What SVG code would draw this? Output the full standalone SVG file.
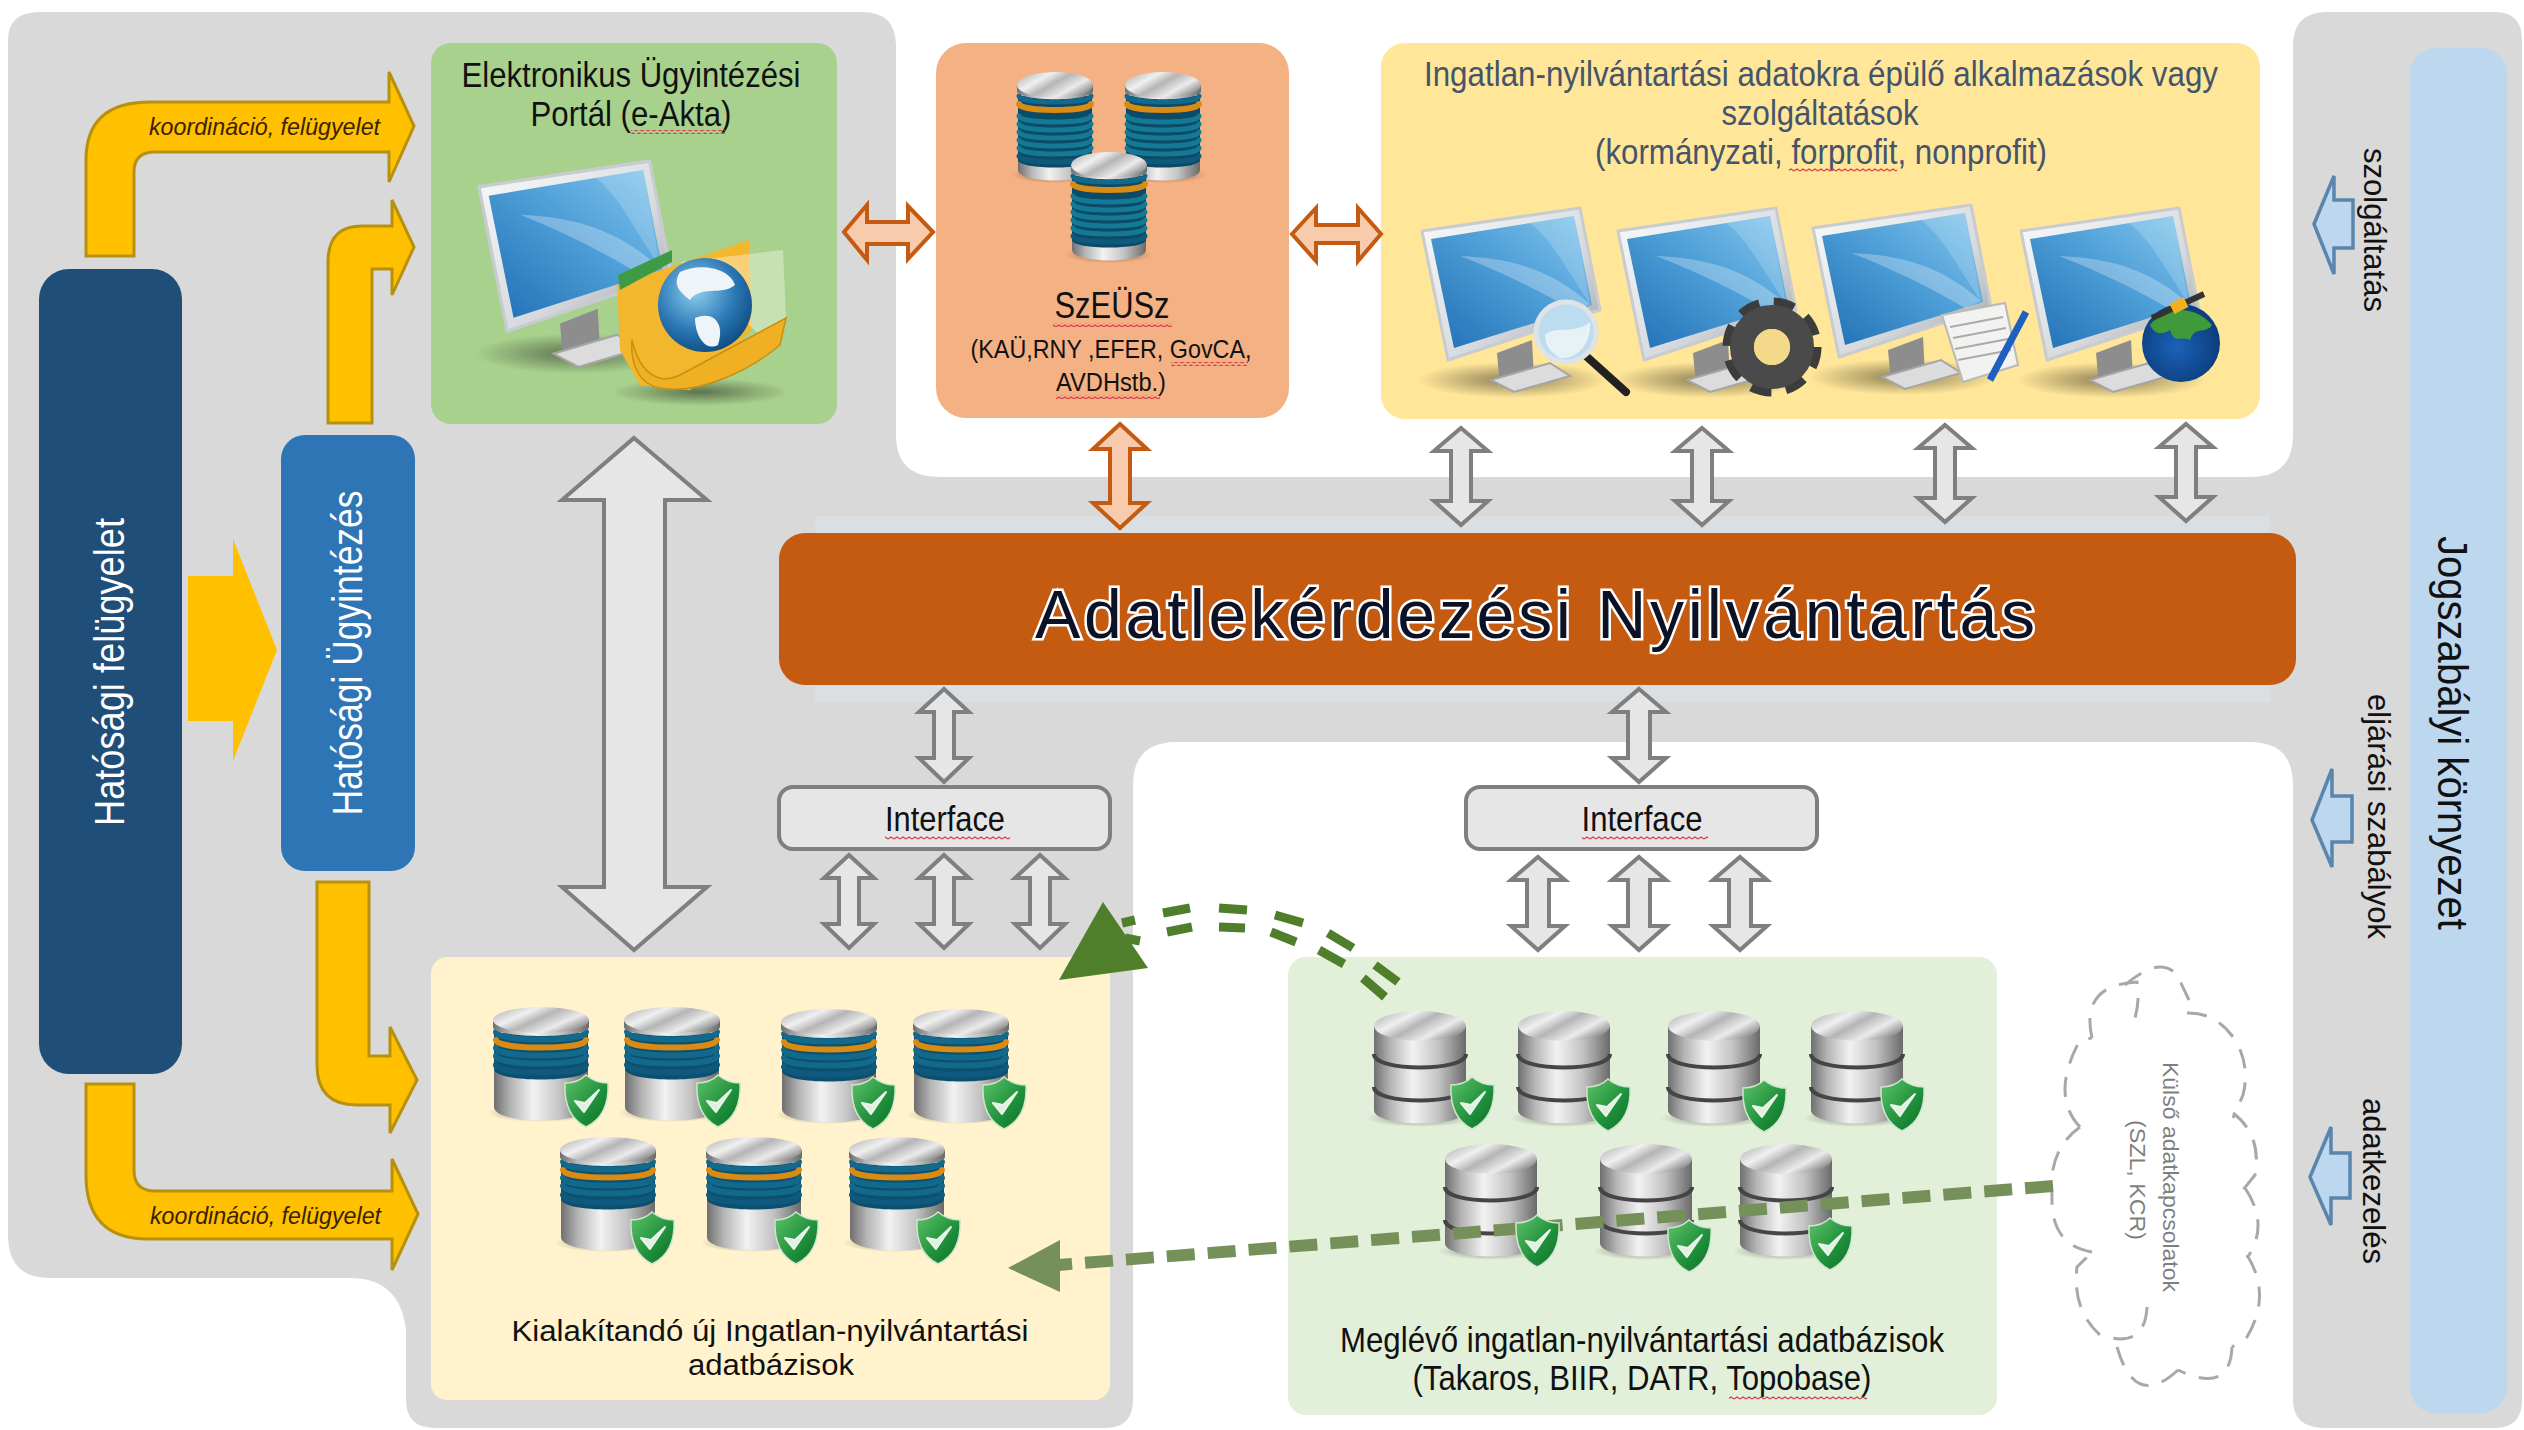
<svg xmlns="http://www.w3.org/2000/svg" width="2524" height="1430" viewBox="0 0 2524 1430">
<style>
.t{font-family:"Liberation Sans",Arial,sans-serif;fill:#111}
.sl{fill:#44546A}
.w{fill:#fff}
.i{font-style:italic;fill:#3a2200;font-size:24px}
.g{fill:#E7E6E6;stroke:#7F7F7F;stroke-width:4;stroke-linejoin:miter}
.o{fill:#F8CBAD;stroke:#C55A11;stroke-width:4}
.y{fill:#FFC000;stroke:#B8900F;stroke-width:3}
.b{fill:#BDD7EE;stroke:#5A86AE;stroke-width:3.5}
.sq{fill:url(#wave)}
</style>
<defs>
<pattern id="wave" width="6" height="4" patternUnits="userSpaceOnUse"><path d="M0,3 L3,1 L6,3" fill="none" stroke="#D8404E" stroke-width="1.4"/></pattern>
<linearGradient id="silver" x1="0" x2="1" y1="0" y2="0"><stop offset="0" stop-color="#6f6f6f"/><stop offset=".18" stop-color="#b5b5b5"/><stop offset=".42" stop-color="#f2f2f2"/><stop offset=".7" stop-color="#c4c4c4"/><stop offset="1" stop-color="#6a6a6a"/></linearGradient>
<linearGradient id="cap" x1="0" x2="1" y1="0" y2=".6"><stop offset="0" stop-color="#a8a8a8"/><stop offset=".35" stop-color="#f0f0f0"/><stop offset=".55" stop-color="#b5b5b5"/><stop offset=".8" stop-color="#ebebeb"/><stop offset="1" stop-color="#999"/></linearGradient>
<linearGradient id="frame" x1="0" x2="1" y1="0" y2="1"><stop offset="0" stop-color="#fafafa"/><stop offset=".6" stop-color="#d6dade"/><stop offset="1" stop-color="#9aa0a5"/></linearGradient>
<linearGradient id="scr" x1="0" x2="1" y1="1" y2="0"><stop offset="0" stop-color="#1F6FB5"/><stop offset=".55" stop-color="#4F9FD8"/><stop offset="1" stop-color="#86C9EE"/></linearGradient>
<linearGradient id="shieldG" x1="0" x2="1" y1="0" y2="1"><stop offset="0" stop-color="#5FC36A"/><stop offset=".6" stop-color="#1E8F3A"/><stop offset="1" stop-color="#0F6E28"/></linearGradient>
<radialGradient id="shadow"><stop offset="0" stop-color="#000" stop-opacity=".45"/><stop offset="1" stop-color="#000" stop-opacity="0"/></radialGradient>
<radialGradient id="globeB" cx=".4" cy=".35" r=".7"><stop offset="0" stop-color="#8FD0F0"/><stop offset=".6" stop-color="#2A78B5"/><stop offset="1" stop-color="#0E4A80"/></radialGradient>
<radialGradient id="earth" cx=".45" cy=".55" r=".6"><stop offset="0" stop-color="#1B62B8"/><stop offset="1" stop-color="#0B3A78"/></radialGradient>

<polygon id="a1" points="0,0 27,23 10,23 10,73 27,73 0,97 -27,73 -10,73 -10,23 -27,23"/>
<polygon id="a2" points="0,0 25,23 10,23 10,69 25,69 0,93 -25,69 -10,69 -10,23 -25,23"/>
<polygon id="a3" points="0,0 27,23 11,23 11,69 27,69 0,93 -27,69 -11,69 -11,23 -27,23"/>

<g id="monitor">
<ellipse cx="90" cy="172" rx="95" ry="18" fill="url(#shadow)"/>
<polygon points="75,145 110,132 112,170 78,178" fill="#8d8d8d"/>
<polygon points="69,172 128,155 148,168 92,184" fill="#dcdcdc" stroke="#a5a5a5" stroke-width="2"/>
<polygon points="0,23 158,0 178,102 26,152" fill="url(#frame)" stroke="#c8ccd0" stroke-width="3" stroke-linejoin="round"/>
<polygon points="9,31 152,8 170,97 32,140" fill="url(#scr)"/>
<path d="M168,96 C130,62 90,50 38,48 C80,64 120,84 152,103 Z" fill="#fff" opacity=".28"/>
<path d="M168,96 C142,58 130,32 108,15 L152,8 Z" fill="#fff" opacity=".18"/>
</g>

<g id="dbc">
<ellipse cx="50" cy="106" rx="54" ry="9" fill="url(#shadow)"/>
<path d="M3,62 V100 C3,118 97,118 97,100 V62 Z" fill="url(#silver)"/>
<path d="M3,26 V62 C3,76 97,76 97,62 V26 Z" fill="#0D4F6E"/>
<g fill="none" stroke-linecap="round" stroke-width="6">
<path d="M5,58 C5,68 95,68 95,58" stroke="#0F5A7C"/>
<path d="M5,49 C5,59 95,59 95,49" stroke="#12698C"/>
<path d="M5,41 C5,51 95,51 95,41" stroke="#12698C"/>
<path d="M5,33 C5,43 95,43 95,33" stroke="#D98B14"/>
<path d="M5,25 C5,35 95,35 95,25" stroke="#12698C"/>
</g>
<path d="M2,13 V20 C2,32 98,32 98,20 V13 Z" fill="url(#silver)"/>
<ellipse cx="50" cy="13" rx="48" ry="13" fill="url(#cap)"/>
</g>

<g id="dbt">
<ellipse cx="40" cy="103" rx="44" ry="8" fill="url(#shadow)"/>
<path d="M3,84 V98 C3,112 77,112 77,98 V84 Z" fill="url(#silver)"/>
<path d="M3,24 V88 C3,98 77,98 77,88 V24 Z" fill="#0C4A68"/>
<g fill="none" stroke-linecap="round" stroke-width="5">
<path d="M4,84 C4,92 76,92 76,84" stroke="#0E5A7C"/>
<path d="M4,76 C4,84 76,84 76,76" stroke="#137A96"/>
<path d="M4,68 C4,76 76,76 76,68" stroke="#137A96"/>
<path d="M4,60 C4,68 76,68 76,60" stroke="#137A96"/>
<path d="M4,52 C4,60 76,60 76,52" stroke="#137A96"/>
<path d="M4,44 C4,52 76,52 76,44" stroke="#137A96"/>
<path d="M4,32 C4,40 76,40 76,32" stroke="#D98B14" stroke-width="6"/>
<path d="M4,24 C4,32 76,32 76,24" stroke="#12698C"/>
</g>
<path d="M2,13 V19 C2,30 78,30 78,19 V13 Z" fill="url(#silver)"/>
<ellipse cx="40" cy="13" rx="38" ry="13" fill="url(#cap)"/>
</g>

<g id="dbg">
<ellipse cx="49" cy="108" rx="54" ry="9" fill="url(#shadow)"/>
<path d="M3,16 V100 C3,118 95,118 95,100 V16 Z" fill="url(#silver)"/>
<path d="M3,44 C3,62 95,62 95,44" fill="none" stroke="#454545" stroke-width="4"/>
<path d="M3,77 C3,95 95,95 95,77" fill="none" stroke="#454545" stroke-width="4"/>
<ellipse cx="49" cy="16" rx="46" ry="15" fill="url(#cap)"/>
</g>

<g id="shield">
<path d="M21,0 C28,6 36,8 43,8 C44,28 38,44 21,52 C5,44 -1,28 0,8 C7,8 15,6 21,0 Z" fill="url(#shieldG)" stroke="#cfe6cf" stroke-width="1.5"/>
<path d="M10,26 L19,37 L34,15 L20,28 Z" fill="#dff0df" stroke="#eaf5ea" stroke-width="2" stroke-linejoin="round"/>
</g>
</defs>

<rect width="2524" height="1430" fill="#fff"/>

<g id="background">
<path fill="#D9D9D9" d="M40,12 H862 Q896,12 896,46 V435 Q896,477 940,477 H2250 Q2293,477 2293,435 V46 Q2293,12 2327,12 H2495 Q2522,12 2522,40 V1400 Q2522,1428 2495,1428 H2325 Q2293,1428 2293,1400 V785 Q2293,742 2250,742 H1177 Q1133,742 1133,785 V1400 Q1133,1428 1105,1428 H435 Q406,1428 406,1400 V1330 Q400,1278 350,1278 H50 Q8,1278 8,1235 V40 Q8,12 40,12 Z"/>
<rect x="815" y="516" width="1455" height="186" fill="#DADFE4"/>
</g>

<g id="node-legal">
<rect x="2410" y="48" width="97" height="1365" rx="26" fill="#BDD7EE"/>
<text class="t" font-size="42" transform="translate(2438,536) rotate(90)" textLength="394" lengthAdjust="spacingAndGlyphs">Jogszabályi környezet</text>
</g>
<g id="node-legal-labels">
<text class="t" font-size="31" transform="translate(2364,148) rotate(90)" textLength="164" lengthAdjust="spacingAndGlyphs">szolgáltatás</text>
<text class="t" font-size="31" transform="translate(2368,694) rotate(90)" textLength="245" lengthAdjust="spacingAndGlyphs">eljárási szabályok</text>
<text class="t" font-size="31" transform="translate(2363,1098) rotate(90)" textLength="166" lengthAdjust="spacingAndGlyphs">adatkezelés</text>
</g>

<g id="node-felugyelet">
<rect x="39" y="269" width="143" height="805" rx="30" fill="#1F4E79"/>
<text class="t w" font-size="42" text-anchor="middle" transform="translate(124,672) rotate(-90)" textLength="308" lengthAdjust="spacingAndGlyphs">Hatósági felügyelet</text>
</g>
<g id="node-ugyintezes">
<rect x="281" y="435" width="134" height="436" rx="24" fill="#2E75B6"/>
<text class="t w" font-size="42" text-anchor="middle" transform="translate(362,653) rotate(-90)" textLength="325" lengthAdjust="spacingAndGlyphs">Hatósági Ügyintézés</text>
</g>

<g id="node-portal">
<rect x="431" y="43" width="406" height="381" rx="20" fill="#A9D18E"/>
<text class="t" font-size="35" x="631" y="87" text-anchor="middle" textLength="339" lengthAdjust="spacingAndGlyphs">Elektronikus Ügyintézési</text>
<text class="t" font-size="35" x="631" y="126" text-anchor="middle" textLength="201" lengthAdjust="spacingAndGlyphs">Portál (e-Akta)</text>
<rect class="sq" x="631" y="130" width="95" height="4"/>
<use href="#monitor" transform="translate(479,161) scale(1.08,1.12)"/>
<ellipse cx="700" cy="392" rx="90" ry="14" fill="url(#shadow)"/>
<polygon points="617,285 749,240 752,330 690,390 640,385 620,350" fill="#F3B72E"/>
<polygon points="618,275 672,250 672,262 620,290" fill="#3F9A45"/>
<polygon points="680,262 783,250 786,320 760,335" fill="#fff" opacity=".35"/>
<circle cx="705" cy="305" r="47" fill="url(#globeB)"/>
<path d="M680,272 C700,262 730,268 735,285 C722,296 700,285 690,300 C680,292 672,285 680,272 Z M695,318 C715,310 725,325 718,345 C705,352 695,335 695,318 Z" fill="#eef4f7"/>
<path d="M632,340 C640,375 660,385 680,375 L786,318 L780,345 C750,370 700,395 660,388 C640,385 630,365 632,340 Z" fill="#F0B023" stroke="#C98E12" stroke-width="1.5"/>
</g>

<g id="node-szeusz">
<rect x="936" y="43" width="353" height="375" rx="30" fill="#F4B183"/>
<use href="#dbt" x="1015" y="72"/>
<use href="#dbt" x="1123" y="72"/>
<use href="#dbt" x="1069" y="152"/>
<text class="t" font-size="36" x="1112" y="318" text-anchor="middle" textLength="115" lengthAdjust="spacingAndGlyphs">SzEÜSz</text>
<rect class="sq" x="1053" y="323" width="119" height="4"/>
<text class="t" font-size="26" x="1111" y="358" text-anchor="middle" textLength="281" lengthAdjust="spacingAndGlyphs">(KAÜ,RNY ,EFER, GovCA,</text>
<rect class="sq" x="1171" y="362" width="77" height="4"/>
<text class="t" font-size="26" x="1111" y="391" text-anchor="middle" textLength="110" lengthAdjust="spacingAndGlyphs">AVDHstb.)</text>
<rect class="sq" x="1056" y="395" width="104" height="4"/>
</g>

<g id="node-apps">
<rect x="1381" y="43" width="879" height="376" rx="24" fill="#FFE699"/>
<text class="t sl" font-size="35" x="1821" y="86" text-anchor="middle" textLength="794" lengthAdjust="spacingAndGlyphs">Ingatlan-nyilvántartási adatokra épülő alkalmazások vagy</text>
<text class="t sl" font-size="35" x="1820" y="125" text-anchor="middle" textLength="197" lengthAdjust="spacingAndGlyphs">szolgáltatások</text>
<text class="t sl" font-size="35" x="1821" y="164" text-anchor="middle" textLength="452" lengthAdjust="spacingAndGlyphs">(kormányzati, forprofit, nonprofit)</text>
<rect class="sq" x="1789" y="168" width="108" height="4"/>
<use href="#monitor" x="1422" y="208"/>
<use href="#monitor" x="1618" y="208"/>
<use href="#monitor" x="1813" y="205"/>
<use href="#monitor" x="2021" y="208"/>
<g id="icon-magnifier">
<line x1="1586" y1="356" x2="1626" y2="392" stroke="#222" stroke-width="8" stroke-linecap="round"/>
<circle cx="1566" cy="332" r="30" fill="#BCDCF0" stroke="#DDE3E6" stroke-width="5"/>
<path d="M1545,335 C1555,325 1575,335 1590,322 C1592,345 1575,360 1560,358 C1550,352 1545,345 1545,335 Z" fill="#E8F2F6"/>
</g>
<g id="icon-gear">
<circle cx="1772" cy="347" r="43" fill="none" stroke="#3C3C3C" stroke-width="13" stroke-dasharray="20 14"/>
<circle cx="1772" cy="347" r="30" fill="none" stroke="#4A4A4A" stroke-width="24"/>
<circle cx="1772" cy="347" r="18" fill="#F4D98A"/>
</g>
<g id="icon-doc">
<polygon points="1942,315 2005,303 2018,365 1963,382" fill="#F2F2F0" stroke="#B9B9B5" stroke-width="2"/>
<path d="M1950,327 L2003,317 M1953,338 L2006,328 M1955,349 L2008,339 M1958,360 L2011,350" stroke="#AAA" stroke-width="2"/>
<line x1="2026" y1="312" x2="1990" y2="380" stroke="#1F5FBF" stroke-width="7"/>
</g>
<g id="icon-earth">
<circle cx="2181" cy="343" r="39" fill="url(#earth)"/>
<path d="M2150,325 C2165,305 2195,305 2212,325 C2205,335 2195,325 2190,340 C2180,335 2175,345 2170,330 C2162,335 2155,335 2150,325 Z" fill="#3E9A3A"/>
<line x1="2152" y1="318" x2="2204" y2="294" stroke="#333" stroke-width="6"/>
<line x1="2172" y1="309" x2="2186" y2="302" stroke="#F0B020" stroke-width="11"/>
</g>
</g>

<g id="node-adatlekerdezesi">
<rect x="779" y="533" width="1517" height="152" rx="26" fill="#C55A11"/>
<text class="t" font-size="68" x="1035" y="638" textLength="1000" lengthAdjust="spacing" style="fill:#0B1226;stroke:#fff;stroke-width:5;paint-order:stroke">Adatlekérdezési Nyilvántartás</text>
</g>

<g id="node-interface-1">
<rect class="g" x="779" y="787" width="331" height="62" rx="14"/>
<text class="t" font-size="35" x="945" y="831" text-anchor="middle" textLength="120" lengthAdjust="spacingAndGlyphs">Interface</text>
<rect class="sq" x="885" y="836" width="125" height="4"/>
</g>
<g id="node-interface-2">
<rect class="g" x="1466" y="787" width="351" height="62" rx="14"/>
<text class="t" font-size="35" x="1642" y="831" text-anchor="middle" textLength="121" lengthAdjust="spacingAndGlyphs">Interface</text>
<rect class="sq" x="1582" y="836" width="126" height="4"/>
</g>

<g id="node-new-db">
<rect x="431" y="957" width="679" height="443" rx="16" fill="#FFF2CC"/>
<use href="#dbc" x="491" y="1007"/>
<use href="#dbc" x="622" y="1007"/>
<use href="#dbc" x="779" y="1009"/>
<use href="#dbc" x="911" y="1009"/>
<use href="#dbc" x="558" y="1137"/>
<use href="#dbc" x="704" y="1137"/>
<use href="#dbc" x="847" y="1137"/>
<text class="t" font-size="29" x="770" y="1341" text-anchor="middle" textLength="517" lengthAdjust="spacingAndGlyphs">Kialakítandó új Ingatlan-nyilvántartási</text>
<text class="t" font-size="29" x="771" y="1375" text-anchor="middle" textLength="166" lengthAdjust="spacingAndGlyphs">adatbázisok</text>
</g>

<g id="node-existing-db">
<rect x="1288" y="957" width="709" height="458" rx="18" fill="#E2F0D9"/>
<use href="#dbg" x="1371" y="1010"/>
<use href="#dbg" x="1515" y="1010"/>
<use href="#dbg" x="1665" y="1010"/>
<use href="#dbg" x="1808" y="1010"/>
<use href="#dbg" x="1442" y="1143"/>
<use href="#dbg" x="1597" y="1143"/>
<use href="#dbg" x="1737" y="1143"/>
<text class="t" font-size="35" x="1642" y="1352" text-anchor="middle" textLength="604" lengthAdjust="spacingAndGlyphs">Meglévő ingatlan-nyilvántartási adatbázisok</text>
<text class="t" font-size="35" x="1642" y="1390" text-anchor="middle" textLength="459" lengthAdjust="spacingAndGlyphs">(Takaros, BIIR, DATR, Topobase)</text>
<rect class="sq" x="1729" y="1396" width="138" height="4"/>
</g>

<g id="node-cloud">
<path fill="none" stroke="#A8A8A8" stroke-width="3" stroke-dasharray="20 14" d="M2187,1013 Q2218,1012 2237,1043 Q2250,1068 2243,1095 L2233,1118 M2233,1113 Q2262,1135 2255,1175 L2243,1190 M2245,1188 Q2270,1225 2247,1258 M2247,1255 Q2272,1295 2247,1337 L2232,1347 M2232,1347 Q2230,1395 2178,1370 M2178,1370 Q2135,1410 2117,1347 M2147,1307 Q2145,1350 2100,1335 Q2072,1310 2077,1267 L2092,1252 M2092,1252 Q2050,1245 2052,1195 Q2048,1150 2080,1127 M2080,1127 Q2050,1095 2080,1040 L2092,1038 M2092,1038 Q2080,985 2137,982 Q2140,1000 2135,1018 M2125,985 Q2160,955 2177,975 L2189,1000"/>
<text class="t" font-size="22" transform="translate(2163,1062) rotate(90)" textLength="230" lengthAdjust="spacingAndGlyphs" style="fill:#7F7F7F">Külső adatkapcsolatok</text>
<text class="t" font-size="22" transform="translate(2130,1120) rotate(90)" textLength="120" lengthAdjust="spacingAndGlyphs" style="fill:#7F7F7F">(SZL, KCR)</text>
</g>

<g id="connectors">
<path class="y" d="M86,256 V160 Q86,102 150,102 H389 V72 L414,126 L389,182 V152 H155 Q134,152 134,172 V256 Z"/>
<path class="y" d="M328,423 V262 Q328,226 362,226 H392 V200 L414,247 L392,295 V269 H372 V423 Z"/>
<polygon class="y" style="stroke:none" points="188,576 233,576 233,539 277,650 233,761 233,721 188,721"/>
<path class="y" d="M317,882 V1065 Q317,1105 357,1105 H390 V1133 L417,1080 L390,1027 V1056 H369 V882 Z"/>
<path class="y" d="M86,1084 V1175 Q86,1239 148,1239 H392 V1270 L418,1214 L392,1159 V1191 H155 Q134,1191 134,1170 V1084 Z"/>

<polygon class="g" points="634,438 707,500 665,500 665,887 707,887 634,950 562,887 604,887 604,500 562,500"/>

<polygon class="o" points="844,232 867,205 867,222 908,222 908,206 933,232 908,259 908,244 867,244 867,260"/>
<polygon class="o" points="1292,234 1316,208 1316,225 1358,225 1358,208 1381,234 1358,261 1358,243 1316,243 1316,261"/>
<polygon class="o" points="1120,424 1147,449 1130,449 1130,503 1147,503 1120,528 1093,503 1110,503 1110,449 1093,449"/>

<use href="#a1" class="g" x="1461" y="428"/>
<use href="#a1" class="g" x="1702" y="428"/>
<use href="#a1" class="g" x="1945" y="425"/>
<use href="#a1" class="g" x="2186" y="424"/>

<use href="#a2" class="g" x="944" y="689"/>
<use href="#a3" class="g" x="1639" y="689"/>
<use href="#a2" class="g" x="849" y="855"/>
<use href="#a2" class="g" x="944" y="855"/>
<use href="#a2" class="g" x="1040" y="855"/>
<use href="#a3" class="g" x="1538" y="857"/>
<use href="#a3" class="g" x="1639" y="857"/>
<use href="#a3" class="g" x="1740" y="857"/>

<polygon class="b" points="2314,224 2334,176 2334,200 2353,200 2353,248 2334,248 2334,274"/>
<polygon class="b" points="2312,820 2332,769 2332,796 2352,796 2352,842 2332,842 2332,867"/>
<polygon class="b" points="2310,1177 2331,1127 2331,1153 2350,1153 2350,1198 2331,1198 2331,1225"/>

<line x1="2053" y1="1186" x2="1058" y2="1265" stroke="#76905A" stroke-width="12" stroke-dasharray="28 13"/>
<polygon points="1008,1268 1060,1240 1060,1292" fill="#76905A"/>

<path fill="none" stroke="#4F7F2B" stroke-width="9" d="M1122,923 L1135,920 M1163,913 L1190,908 M1219,908 L1247,910 M1275,915 L1303,923 M1328,933 L1353,948 M1375,965 L1398,982 M1125,938 L1140,941 M1167,932 L1192,927 M1219,927 L1245,928 M1271,932 L1296,942 M1319,950 L1344,964 M1363,978 L1385,997"/>
<polygon points="1103,902 1059,980 1148,968" fill="#4F7F2B"/>
</g>

<g id="labels">
<text class="t i" x="149" y="135" textLength="231" lengthAdjust="spacingAndGlyphs">koordináció, felügyelet</text>
<text class="t i" x="150" y="1224" textLength="231" lengthAdjust="spacingAndGlyphs">koordináció, felügyelet</text>
</g>

<g id="shields">
<use href="#shield" x="565" y="1075"/>
<use href="#shield" x="697" y="1075"/>
<use href="#shield" x="852" y="1077"/>
<use href="#shield" x="983" y="1077"/>
<use href="#shield" x="631" y="1212"/>
<use href="#shield" x="775" y="1212"/>
<use href="#shield" x="917" y="1212"/>
<use href="#shield" x="1451" y="1077"/>
<use href="#shield" x="1587" y="1079"/>
<use href="#shield" x="1743" y="1080"/>
<use href="#shield" x="1881" y="1079"/>
<use href="#shield" x="1516" y="1215"/>
<use href="#shield" x="1668" y="1220"/>
<use href="#shield" x="1809" y="1218"/>
</g>
</svg>
